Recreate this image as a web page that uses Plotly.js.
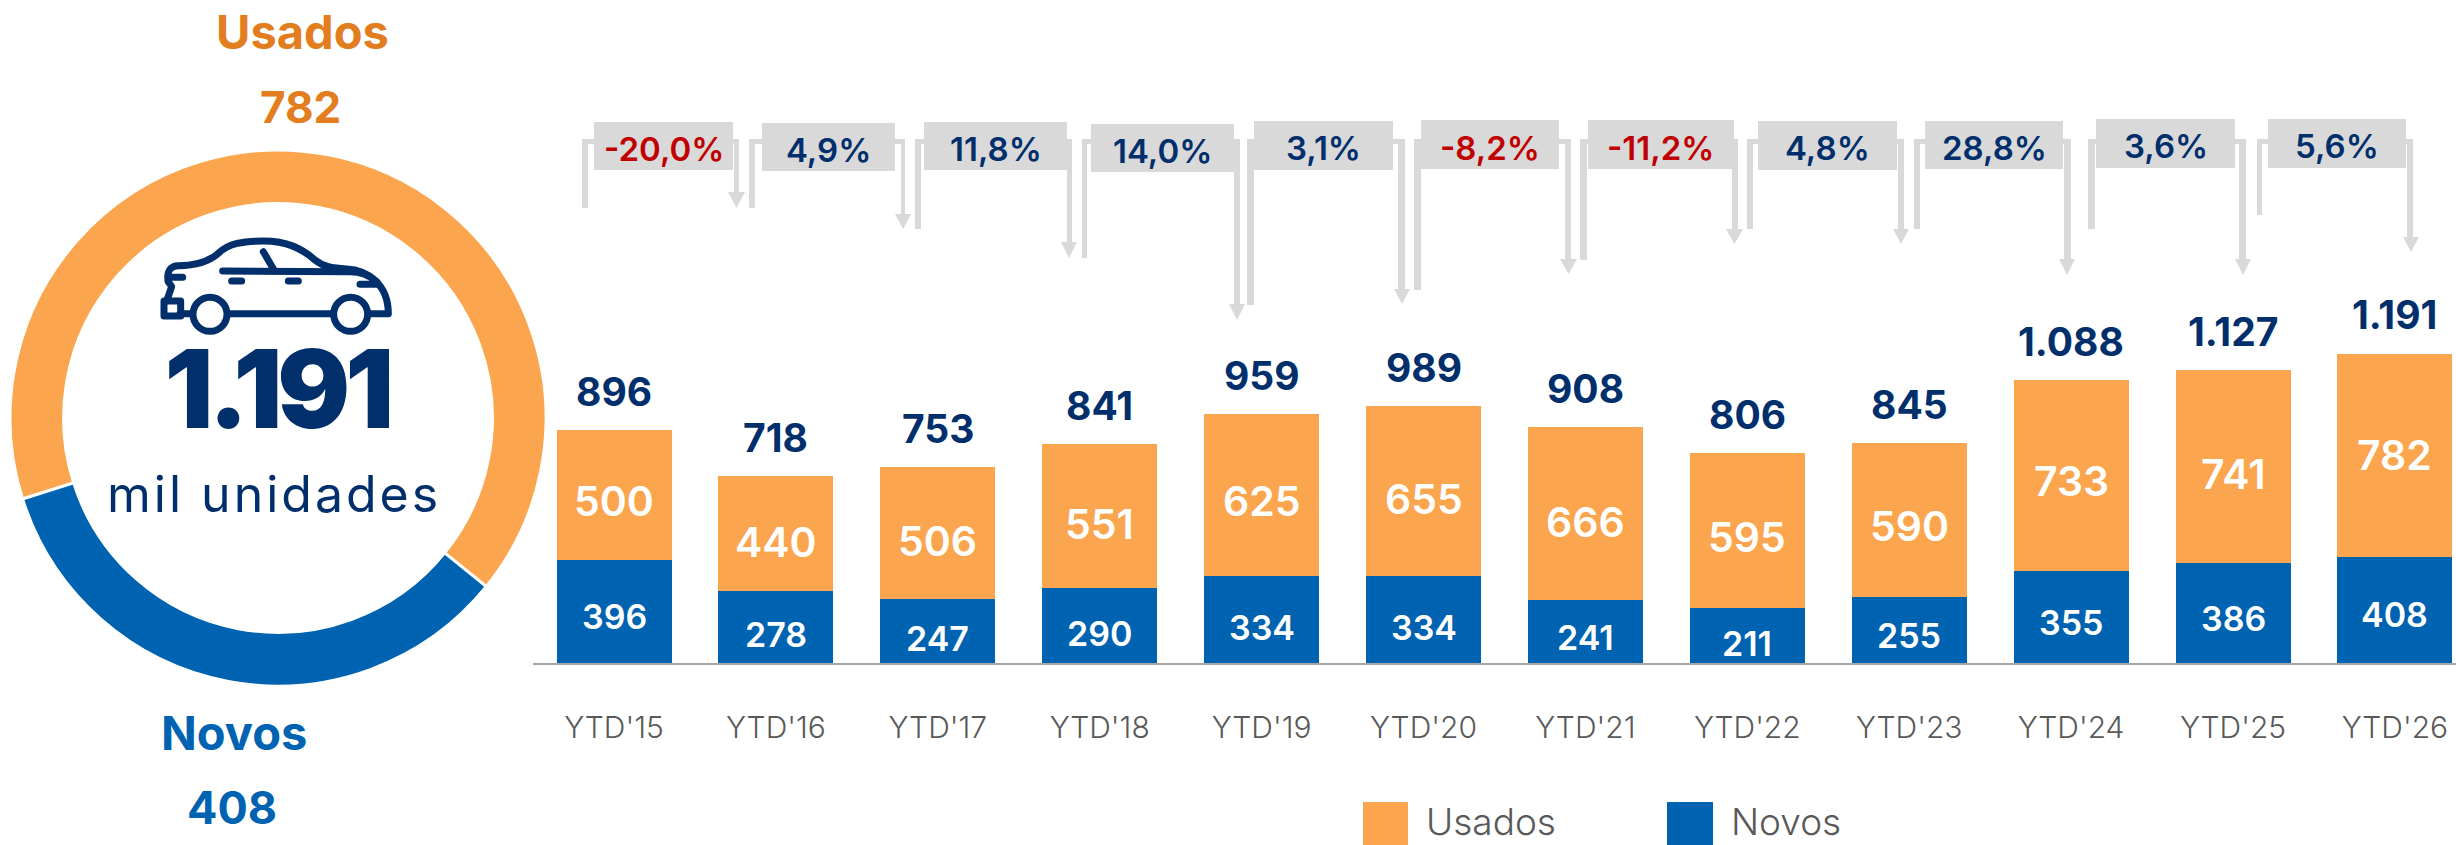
<!DOCTYPE html>
<html><head><meta charset="utf-8">
<script src="https://cdn.plot.ly/plotly-3.0.1.min.js"></script>
<style>html,body{margin:0;padding:0;background:#fff;overflow:hidden}#c{width:2456px;height:845px}</style>
</head><body><div id="c"></div>
<script>
const categories=["YTD'15","YTD'16","YTD'17","YTD'18","YTD'19","YTD'20","YTD'21","YTD'22","YTD'23","YTD'24","YTD'25","YTD'26"];
const usados=[500,440,506,551,625,655,666,595,590,733,741,782];
const novos=[396,278,247,290,334,334,241,211,255,355,386,408];
const totais=["896","718","753","841","959","989","908","806","845","1.088","1.127","1.191"];
const totalValues=[896,718,753,841,959,989,908,806,845,1088,1127,1191];
const variacoes=["-20,0%","4,9%","11,8%","14,0%","3,1%","-8,2%","-11,2%","4,8%","28,8%","3,6%","5,6%"];
const donutLabels=["Usados","Novos"];
const donutValues=[782,408];

const W=2456,H=845;
const ORANGE="#FBA54E",BLUE="#0063B1",NAVY="#002F6C",RED="#C00000",GREY="#D9D9D9",DARKO="#E27D20";
const FONT="Inter";
const px=x=>x/W, py=y=>1-y/H;

// layout geometry of the variation callouts: box x0,x1,y0,y1; left bar x0,x1,bottom; right bar x0,x1; head start, tip, head x0,x1
const callouts=[
[594,733,122,170, 582,588,208, 734,739,192,208,728,745],
[762,895,123,171, 749,755,208, 901,905,214,229,895,911],
[924,1067,122,170, 915,921,229, 1067,1072,242,258,1061,1077],
[1091,1234,124,172, 1082,1087,258, 1234,1240,304,320,1229,1245],
[1254,1393,121,170, 1247,1254,305, 1398,1405,289,304,1394,1410],
[1421,1559,120,169, 1414,1421,290, 1565,1571,259,274,1560,1577],
[1588,1734,120,169, 1580,1587,260, 1732,1738,229,244,1726,1743],
[1758,1897,121,170, 1747,1753,229, 1898,1904,229,244,1893,1909],
[1925,2063,121,169, 1914,1920,229, 2064,2071,259,275,2059,2075],
[2096,2235,119,168, 2088,2095,229, 2239,2246,259,275,2235,2251],
[2268,2406,119,168, 2257,2262,215, 2407,2413,237,252,2403,2419]];
// downward nudges of the value labels inside the bars, in pixels
const usadosNudge=[6,8,8,8,6,8,8,6,6,6,8,0];
const novosNudge=[5,8,8,8,8,8,6,8,6,6,6,5];

const shapes=[],annotations=[];
const rect=(x0,y0,x1,y1,c)=>shapes.push({type:'rect',xref:'paper',yref:'paper',x0:px(x0),x1:px(x1),y0:py(y0),y1:py(y1),fillcolor:c,line:{width:0},layer:'above'});
const TOPY=139;
callouts.forEach((c,i)=>{
  const [bx0,bx1,by0,by1,lx0,lx1,lb,rx0,rx1,hs,ht,hx0,hx1]=c;
  rect(lx0,TOPY,lx1,lb,GREY);
  rect(lx0,TOPY,bx0,TOPY+5,GREY);
  rect(bx1,TOPY,rx1,TOPY+5,GREY);
  rect(rx0,TOPY,rx1,hs,GREY);
  shapes.push({type:'path',xref:'paper',yref:'paper',path:`M${px(hx0)},${py(hs)}L${px(hx1)},${py(hs)}L${px((hx0+hx1)/2)},${py(ht)}Z`,fillcolor:GREY,line:{width:0},layer:'above'});
  rect(bx0,by0,bx1,by1,GREY);
  annotations.push({xref:'paper',yref:'paper',x:px((bx0+bx1)/2),y:py((by0+by1)/2+3),xanchor:'center',yanchor:'middle',showarrow:false,text:variacoes[i],
    font:{family:FONT,size:33,weight:600,color:variacoes[i][0]==='-'?RED:NAVY}});
});

// totals above the bars, values inside the bars
categories.forEach((c,i)=>{
  annotations.push({xref:'x',yref:'y',x:i,y:totalValues[i],xanchor:'center',yanchor:'bottom',yshift:13,showarrow:false,text:totais[i],
    font:{family:FONT,size:39,weight:700,color:NAVY}});
  annotations.push({xref:'x',yref:'y',x:i,y:novos[i]/2,xanchor:'center',yanchor:'middle',yshift:-novosNudge[i],showarrow:false,text:String(novos[i]),
    font:{family:FONT,size:34,weight:600,color:'#fff'}});
  annotations.push({xref:'x',yref:'y',x:i,y:novos[i]+usados[i]/2,xanchor:'center',yanchor:'middle',yshift:-usadosNudge[i],showarrow:false,text:String(usados[i]),
    font:{family:FONT,size:41,weight:600,color:'#fff'}});
});

const label=(t,x,y,size,weight,color,extra)=>annotations.push(Object.assign({xref:'paper',yref:'paper',x:px(x),y:py(y),xanchor:'center',yanchor:'middle',showarrow:false,text:t,font:{family:FONT,size,weight,color}},extra||{}));
label("Usados",302,32,47,700,DARKO);
label("782",300,107,44,700,DARKO);
label("Novos",234,732,47,700,BLUE);
label("408",232,807,45,700,BLUE);
label("1.191",277,389,108,900,NAVY);
label("mil unidades",274,494,50,400,NAVY);

// legend
rect(1363,802,1408,845,ORANGE);
rect(1667,802,1713,845,BLUE);
label("Usados",1425,845,37,300,"#595959",{xanchor:'left',yanchor:'bottom',borderpad:0});
label("Novos",1730,845,37,300,"#595959",{xanchor:'left',yanchor:'bottom',borderpad:0});

// car icon (drawn in the icon's own coordinates)
const cx=X=>px(150+X/3), cy=Y=>py(225+Y/3);
const P=(cmds)=>cmds.map(c=>c[0]+c.slice(1).reduce((a,v,i)=>a+(i?(i%2?',':' '):'')+(i%2?cy(v):cx(v)),'')).join('');
const carPaths=[
 [['M',55,170],['C',48,140,62,122,85,122],['C',130,122,170,115,205,85],['C',235,55,280,48,340,48],['C',410,48,455,70,495,105],['C',520,125,545,130,590,132],['C',650,135,715,175,715,266],['L',660,266]],
 [['M',120,266],['L',90,266]],
 [['M',240,266],['L',545,266]],
 [['M',218,138],['L',600,140],['C',630,140,660,152,680,170]],
 [['M',340,80],['L',372,135]],
 [['M',245,168],['L',275,168]],
 [['M',415,168],['L',445,168]],
 [['M',62,157],['L',98,157]],
 [['M',630,178],['L',682,178]],
 [['M',55,170],['L',65,185],['L',50,228]],
 [['M',42,228],['L',92,228],['L',92,273],['L',42,273],['Z']]
];
carPaths.forEach(p=>shapes.push({type:'path',xref:'paper',yref:'paper',path:P(p),fillcolor:'rgba(0,0,0,0)',line:{color:NAVY,width:7},layer:'above'}));
[[180],[602]].forEach(([X])=>shapes.push({type:'circle',xref:'paper',yref:'paper',x0:cx(X-51),x1:cx(X+51),y0:cy(268-51),y1:cy(268+51),fillcolor:'#fff',line:{color:NAVY,width:7},layer:'above'}));

const SCALE=0.26, BASE=663, PITCH=161.9, C0=614, AX0=533;
const data=[
 {type:'bar',name:'Novos',x:categories,y:novos,marker:{color:BLUE},hoverinfo:'x+y+name'},
 {type:'bar',name:'Usados',x:categories,y:usados,marker:{color:ORANGE},hoverinfo:'x+y+name'},
 {type:'pie',labels:donutLabels,values:donutValues,hole:0.8,sort:false,direction:'clockwise',rotation:252.4,textinfo:'none',marker:{colors:[ORANGE,BLUE],line:{color:'#fff',width:3}},domain:{x:[10/W,546/W],y:[1-687/H,1-149/H]},showlegend:false}
];
const layout={
 width:W,height:H,margin:{l:0,r:0,t:0,b:0},paper_bgcolor:'#fff',plot_bgcolor:'#fff',showlegend:false,
 barmode:'stack',bargap:1-115/PITCH,
 xaxis:{domain:[AX0/W,1],range:[(AX0-C0)/PITCH,(W-C0)/PITCH],type:'category',categoryorder:'array',categoryarray:categories,tickmode:'array',tickvals:categories,ticktext:categories,
   showgrid:false,zeroline:false,showline:true,linecolor:'#A6A6A6',linewidth:2,ticks:'',ticklabelstandoff:37,tickangle:0,tickfont:{family:FONT,size:30,weight:300,color:'#595959'}},
 yaxis:{domain:[1-BASE/H,1],range:[0,BASE/SCALE],visible:false,showgrid:false,zeroline:false},
 shapes,annotations
};
Plotly.newPlot('c',data,layout,{staticPlot:true,displayModeBar:false}).then(()=>{
  document.querySelectorAll('.shapelayer path').forEach(p=>{p.style.strokeLinecap='round';p.style.strokeLinejoin='round';});
  document.querySelectorAll('.annotation-text').forEach(t=>{
    if(t.textContent==='mil unidades')t.style.letterSpacing='3px';
    if(t.textContent==='1.191'&&parseFloat(t.style.fontSize)>60)t.style.letterSpacing='-5px';
  });
});
</script></body></html>
